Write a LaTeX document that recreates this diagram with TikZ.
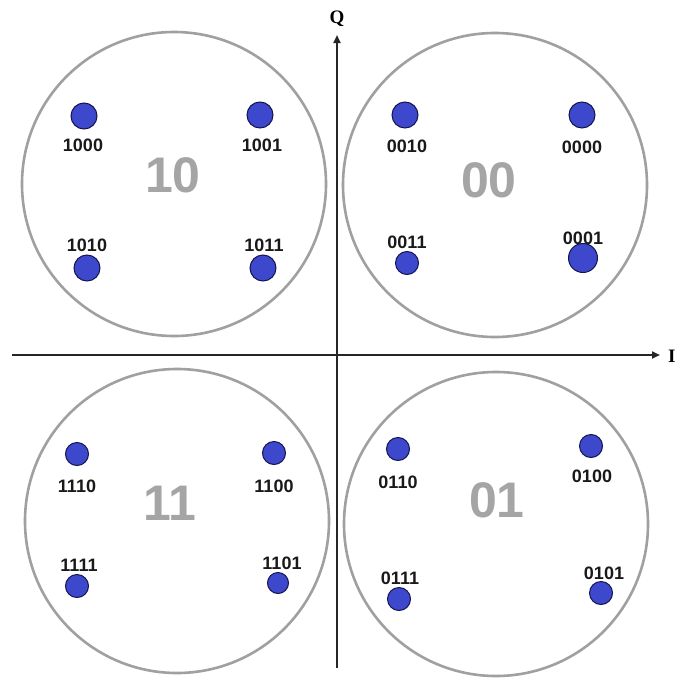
\documentclass[tikz,border=0pt]{standalone}
\usepackage{fontspec}
\setmainfont{Liberation Sans}
\newfontfamily\serifQ{Liberation Serif}
\usetikzlibrary{arrows.meta}
\definecolor{dotblue}{RGB}{62,72,204}
\definecolor{dotedge}{RGB}{20,20,80}
\definecolor{ringgray}{RGB}{160,160,160}
\definecolor{biggray}{RGB}{165,165,165}
\begin{document}
\begin{tikzpicture}[x=1pt,y=-1pt,
  ring/.style={draw=ringgray,line width=2.6pt,circle,minimum size=304pt,inner sep=0pt},
  pt/.style={circle,fill=dotblue,draw=dotedge,line width=1pt,minimum size=26pt,inner sep=0pt},
  ptsmall/.style={pt,minimum size=23pt},
  ptbig/.style={pt,minimum size=29pt},
  lbl/.style={font=\fontsize{18}{18}\selectfont\bfseries,text=black!90,inner sep=0pt},
  quad/.style={font=\fontsize{50}{50}\selectfont\bfseries,text=biggray,inner sep=0pt},
  axis/.style={draw=black!85,line width=2pt,-{Triangle[length=8pt,width=7pt]}},
  axlbl/.style={font=\serifQ\fontsize{19}{19}\selectfont\bfseries,inner sep=0pt}]
\useasboundingbox (0,0) rectangle (678,680);
% rings
\node[ring] (r10) at (174,184) {};
\node[ring] (r00) at (495,185) {};
\node[ring] (r11) at (177,521) {};
\node[ring] (r01) at (496,524) {};
% axes
\coordinate (xs) at (12,355);
\coordinate (xe) at (660,355);
\coordinate (ys) at (337,668);
\coordinate (ye) at (337,35);
\draw[axis] (xs) -- (xe);
\draw[axis] (ys) -- (ye);
\node[axlbl] (Qlbl) at (337,19) {Q};
\node[axlbl,anchor=west] (Ilbl) at (668,356) {I};
% quadrant labels
\node[quad] (q10) at (173,175) {10};
\node[quad] (q00) at (489,180) {00};
\node[quad] (q11) at (170,503) {11};
\node[quad] (q01) at (497,500) {01};
% top-left
\node[pt] (p1000) at (84,116) {};
\node[lbl] (l1000) at (83,145) {1000};
\node[pt] (p1001) at (260,115) {};
\node[lbl] (l1001) at (262,145) {1001};
\node[lbl] (l1010) at (87,245) {1010};
\node[pt] (p1010) at (87,268) {};
\node[lbl] (l1011) at (264,245) {1011};
\node[pt] (p1011) at (263,268) {};
% top-right
\node[pt] (p0010) at (405,115) {};
\node[lbl] (l0010) at (407,146) {0010};
\node[pt] (p0000) at (582,115) {};
\node[lbl] (l0000) at (582,147) {0000};
\node[lbl] (l0011) at (407,242) {0011};
\node[ptsmall] (p0011) at (407,263) {};
\node[lbl] (l0001) at (583,238) {0001};
\node[ptbig] (p0001) at (583,258) {};
% bottom-left
\node[ptsmall] (p1110) at (77,454) {};
\node[lbl] (l1110) at (77,486) {1110};
\node[ptsmall] (p1100) at (274,453) {};
\node[lbl] (l1100) at (274,486) {1100};
\node[lbl] (l1111) at (79,565) {1111};
\node[ptsmall] (p1111) at (77,586) {};
\node[lbl] (l1101) at (282,563) {1101};
\node[pt,minimum size=21pt] (p1101) at (278,583) {};
% bottom-right
\node[ptsmall] (p0110) at (398,449) {};
\node[lbl] (l0110) at (398,482) {0110};
\node[ptsmall] (p0100) at (591,446) {};
\node[lbl] (l0100) at (592,476) {0100};
\node[lbl] (l0111) at (400,578) {0111};
\node[ptsmall] (p0111) at (399,599) {};
\node[lbl] (l0101) at (604,573) {0101};
\node[ptsmall] (p0101) at (601,593) {};
\end{tikzpicture}
\end{document}
